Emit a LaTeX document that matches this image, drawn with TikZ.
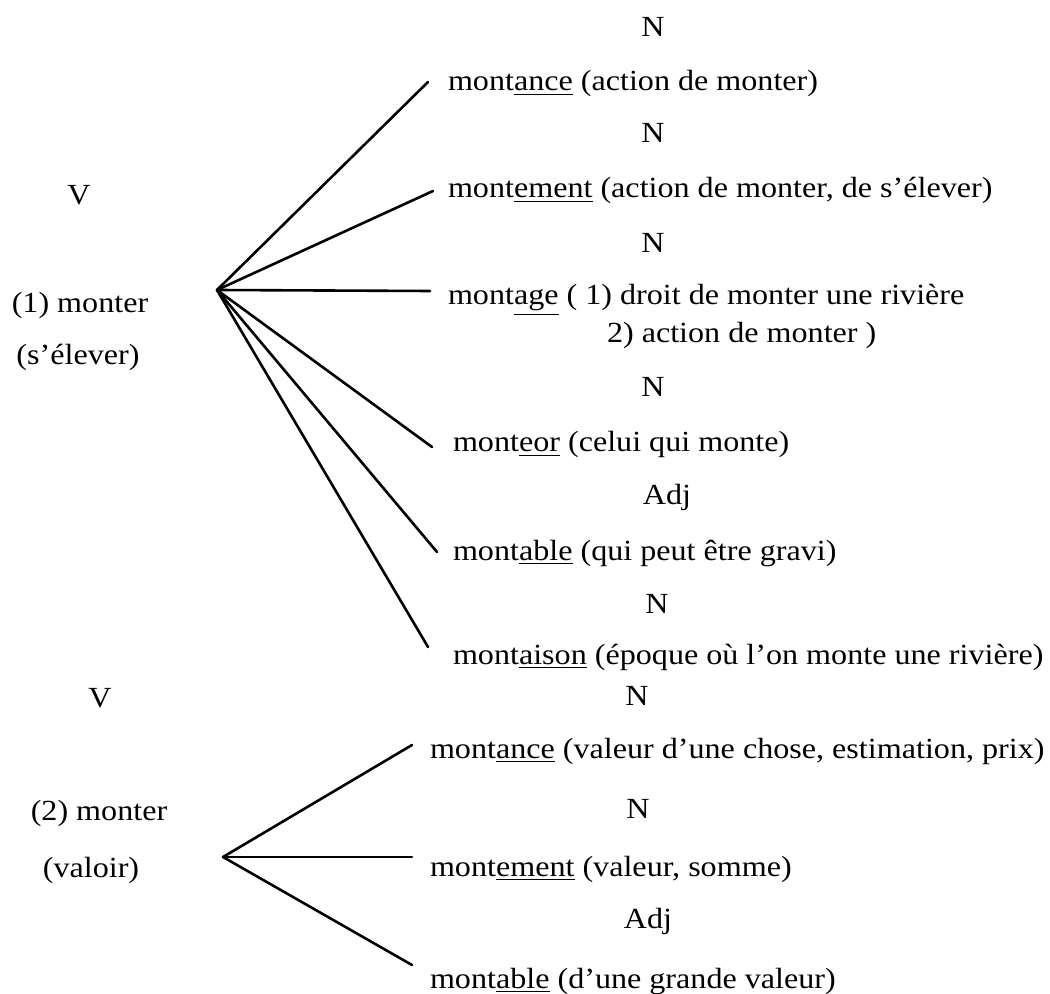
\documentclass[tikz,border=0pt]{standalone}
\usepackage{fontspec}
\setmainfont{Liberation Serif}[FakeStretch=1.1]
\begin{document}
\begin{tikzpicture}[x=0.5pt,y=-0.5pt,
  every node/.style={inner sep=0pt,outer sep=0pt,font=\fontsize{14.6}{18}\selectfont},
  entry/.style={anchor=base west},
  cat/.style={anchor=base},
  branch/.style={line width=1.3pt,line cap=round}]
\useasboundingbox (0,0) rectangle (1050,994);
% left labels
\node[cat] (v1) at (79,205) {V};
\node[cat] (m1) at (80,313) {(1) monter};
\node[cat] (s1) at (78,365) {(s’élever)};
\node[cat] (v2) at (100,707) {V};
\node[cat] (m2) at (99,820) {(2) monter};
\node[cat] (s2) at (91,877) {(valoir)};
% hubs
\coordinate (h1) at (217,290);
\coordinate (h2) at (223,857);
% categories
\node[cat] (c1) at (653,37) {N};
\node[cat] (c2) at (653,143) {N};
\node[cat] (c3) at (653,253) {N};
\node[cat] (c4) at (653,397) {N};
\node[cat] (c5) at (667,505) {Adj};
\node[cat] (c6) at (657,613) {N};
\node[cat] (c7) at (637,705) {N};
\node[cat] (c8) at (638,818) {N};
\node[cat] (c9) at (648,928) {Adj};
% entries
\node[entry] (e1) at (448,91) {mont\underline{ance} (action de monter)};
\node[entry] (e2) at (448,198) {mont\underline{ement} (action de monter, de s’élever)};
\node[entry] (e3) at (448,305) {mont\underline{age} ( 1) droit de monter une rivière};
\node[entry] (e3b) at (607,343) {2) action de monter )};
\node[entry] (e4) at (453,452) {mont\underline{eor} (celui qui monte)};
\node[entry] (e5) at (453,560) {mont\underline{able} (qui peut être gravi)};
\node[entry] (e6) at (453,664) {mont\underline{aison} (époque où l’on monte une rivière)};
\node[entry] (f1) at (430,758) {mont\underline{ance} (valeur d’une chose, estimation, prix)};
\node[entry] (f2) at (430,876) {mont\underline{ement} (valeur, somme)};
\node[entry] (f3) at (430,988) {mont\underline{able} (d’une grande valeur)};
% line ends
\coordinate (t1) at (428,82);
\coordinate (t2) at (433,191);
\coordinate (t3) at (430,291);
\coordinate (t4) at (432,447);
\coordinate (t5) at (437,552);
\coordinate (t6) at (428,647);
\coordinate (u1) at (412,745);
\coordinate (u2) at (412,857);
\coordinate (u3) at (412,965);
\foreach \t in {t1,t2,t3,t4,t5,t6} \draw[branch] (h1) -- (\t);
\foreach \t in {u1,u2,u3} \draw[branch] (h2) -- (\t);
\end{tikzpicture}
\end{document}
